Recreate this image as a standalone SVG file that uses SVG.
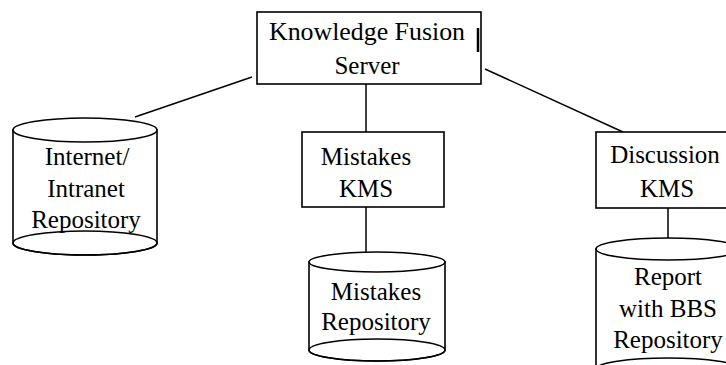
<svg xmlns="http://www.w3.org/2000/svg" width="726" height="365" viewBox="0 0 726 365">
<style>
.s{fill:#fff;stroke:#000;stroke-width:1.6}
.n{fill:none;stroke:#000;stroke-width:1.6}
.c{stroke:#000;stroke-width:1.5;fill:none}
text{font-family:"Liberation Serif","Times New Roman",serif;font-size:25px;fill:#000;text-anchor:middle}
</style>
<rect width="726" height="365" fill="#fff"/>
<g id="connectors">
<line class="c" x1="252" y1="77" x2="135" y2="117"/>
<line class="c" x1="485" y1="69" x2="623" y2="132"/>
<line class="c" x1="366" y1="84" x2="366" y2="132"/>
<line class="c" x1="366" y1="207" x2="366" y2="252"/>
<line class="c" x1="668" y1="208" x2="668" y2="239"/>
</g>
<g id="server">
<rect class="s" x="257" y="12" width="224" height="72"/>
<line x1="478" y1="28" x2="478" y2="52" stroke="#000" stroke-width="2.5"/>
<text x="367" y="40" textLength="196" lengthAdjust="spacingAndGlyphs">Knowledge Fusion</text>
<text x="367" y="74">Server</text>
</g>
<g id="internet">
<path class="s" d="M13,130 L13,243 A72,12 0 0,0 157,243 L157,130 Z"/>
<ellipse class="s" cx="85" cy="130" rx="72" ry="12"/>
<ellipse class="n" cx="85" cy="243" rx="72" ry="12"/>
<text x="87" y="165">Internet/</text>
<text x="86" y="197">Intranet</text>
<text x="86" y="228">Repository</text>
</g>
<g id="mistakes-kms">
<rect class="s" x="302" y="132" width="142" height="75"/>
<text x="366" y="165">Mistakes</text>
<text x="366" y="197">KMS</text>
</g>
<g id="mistakes-repo">
<path class="s" d="M309,262 L309,350 A68,11 0 0,0 445,350 L445,262 Z"/>
<ellipse class="s" cx="377" cy="262" rx="68" ry="10"/>
<ellipse class="n" cx="377" cy="350" rx="68" ry="11"/>
<text x="376" y="300">Mistakes</text>
<text x="376" y="330">Repository</text>
</g>
<g id="discussion-kms">
<rect class="s" x="596" y="132" width="144" height="76"/>
<text x="665" y="163">Discussion</text>
<text x="667" y="197">KMS</text>
</g>
<g id="report-repo">
<path class="s" d="M596,249 L596,369 A72,11 0 0,0 740,369 L740,249 Z"/>
<ellipse class="s" cx="668" cy="249" rx="72" ry="11"/>
<ellipse class="n" cx="668" cy="369" rx="72" ry="11"/>
<text x="668" y="285">Report</text>
<text x="668" y="317">with BBS</text>
<text x="668" y="348">Repository</text>
</g>
</svg>
